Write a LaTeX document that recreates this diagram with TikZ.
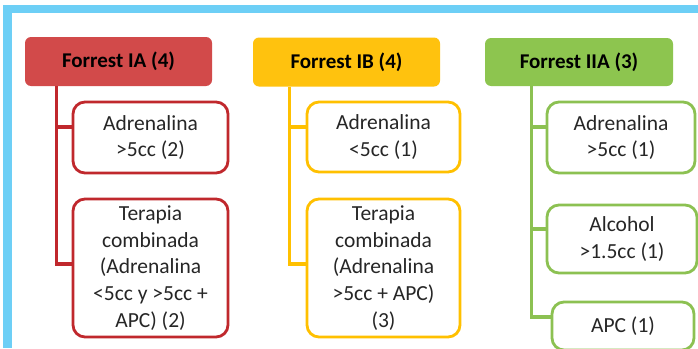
\documentclass[tikz,border=0pt]{standalone}
\usepackage{fontspec}
\setmainfont{Carlito}
\definecolor{frameblue}{HTML}{6DCFF6}
\definecolor{iafill}{HTML}{D24A4A}
\definecolor{iaedge}{HTML}{C0282D}
\definecolor{ibfill}{HTML}{FFC20E}
\definecolor{ibedge}{HTML}{FFC000}
\definecolor{iiafill}{HTML}{8DC54F}
\definecolor{iiaedge}{HTML}{8CC152}
\definecolor{txtgray}{HTML}{262626}

\tikzset{
	hdr/.style={rounded corners=6pt, inner sep=0pt, minimum height=49pt, font=\fontsize{21}{26.7}\selectfont\bfseries},
	leaf/.style={draw, line width=2.8pt, fill=white, rounded corners=12pt, align=center, inner sep=0pt, text=txtgray, font=\fontsize{21.5}{26.7}\selectfont},
	branch/.style={line width=3.2pt},
}

\begin{document}
\begin{tikzpicture}[x=1pt,y=-1pt]
	\useasboundingbox[fill=white] (0,0) rectangle (698,348);
	\fill[frameblue] (3,5) rectangle (698,348);
	\fill[white] (12,12.5) rectangle (698,348);

	% cabeceras
	\node[hdr, fill=iafill, minimum width=187pt] (ia) at (118.5,61.5) {Forrest IA (4)};
	\node[hdr, fill=ibfill, minimum width=187pt] (ib) at (346.5,62) {Forrest IB (4)};
	\node[hdr, fill=iiafill, minimum width=188pt, minimum height=48pt] (iia) at (579,62) {Forrest IIA (3)};
	\coordinate (iatrunk) at ([xshift=32pt]ia.south west);
	\coordinate (ibtrunk) at ([xshift=37pt]ib.south west);
	\coordinate (iiatrunk) at ([xshift=47pt]iia.south west);

	% IA
	\node[leaf, draw=iaedge, minimum width=155pt, minimum height=71pt] (ia1) at (150.5,137.5) {Adrenalina\\>5cc (2)};
	\node[leaf, draw=iaedge, minimum width=155pt, minimum height=138pt] (ia2) at (150.5,268) {Terapia\\combinada\\(Adrenalina\\<5cc y >5cc +\\APC) (2)};
	\draw[branch, iaedge] (iatrunk) |- ([yshift=10.5pt]ia1.west);
	\draw[branch, iaedge] (iatrunk) |- ([yshift=4pt]ia2.west);

	% IB
	\node[leaf, draw=ibedge, minimum width=153pt, minimum height=70pt] (ib1) at (383.5,137) {Adrenalina\\<5cc (1)};
	\node[leaf, draw=ibedge, minimum width=153pt, minimum height=138pt] (ib2) at (383.5,268) {Terapia\\combinada\\(Adrenalina\\>5cc + APC)\\(3)};
	\draw[branch, ibedge] (ibtrunk) |- ([yshift=10pt]ib1.west);
	\draw[branch, ibedge] (ibtrunk) |- ([yshift=4pt]ib2.west);

	% IIA
	\node[leaf, draw=iiaedge, minimum width=148pt, minimum height=71pt] (iia1) at (621,137.5) {Adrenalina\\>5cc (1)};
	\node[leaf, draw=iiaedge, minimum width=150pt, minimum height=68pt] (iia2) at (622,239) {Alcohol\\>1.5cc (1)};
	\node[leaf, draw=iiaedge, minimum width=142pt, minimum height=48pt] (iia3) at (623,326) {APC (1)};
	\draw[branch, iiaedge] (iiatrunk) |- ([yshift=10.5pt]iia1.west);
	\draw[branch, iiaedge] (iiatrunk) |- ([yshift=10pt]iia2.west);
	\draw[branch, iiaedge] (iiatrunk) |- ([yshift=9pt]iia3.west);
\end{tikzpicture}
\end{document}
